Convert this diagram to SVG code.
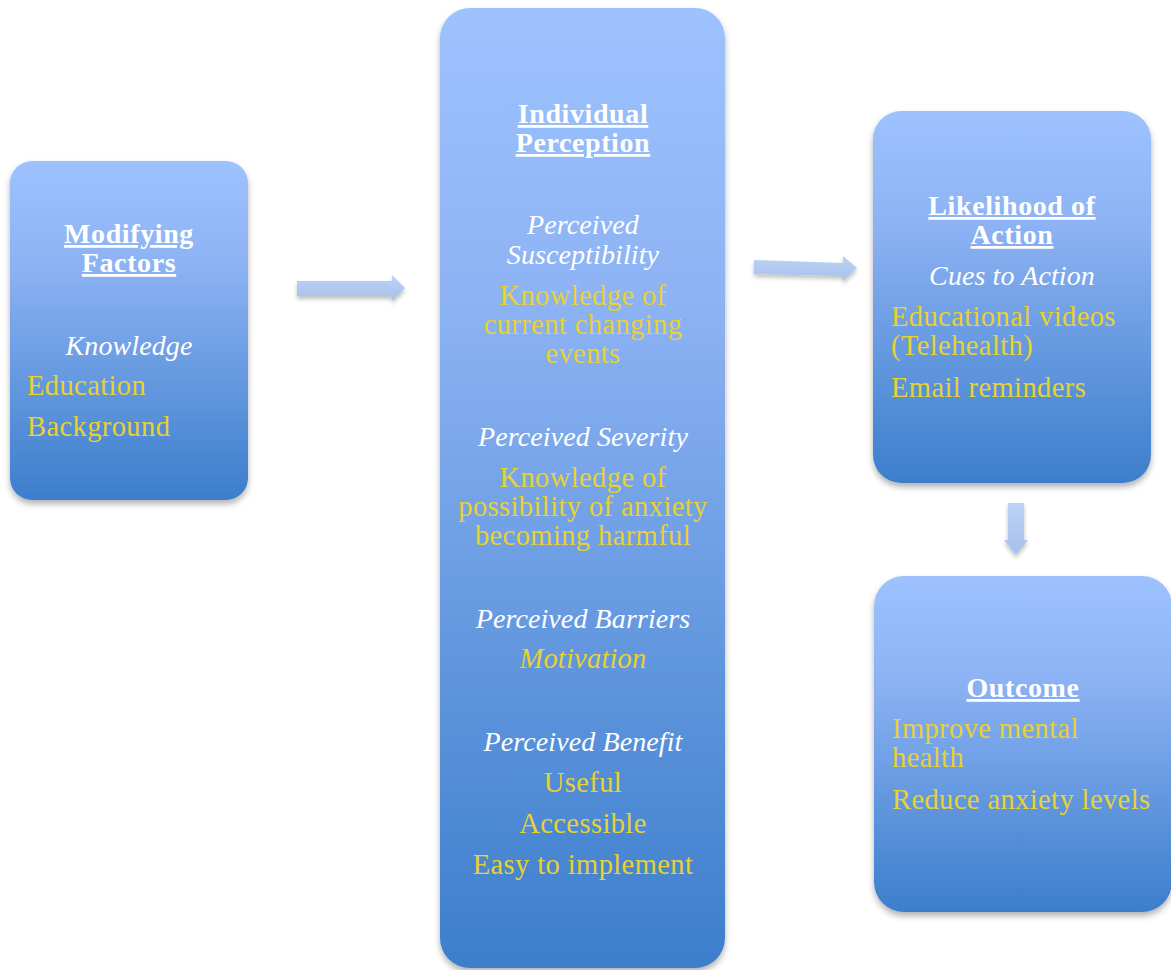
<svg xmlns="http://www.w3.org/2000/svg" width="1171" height="970" viewBox="0 0 1171 970">
  <defs>
    <linearGradient id="boxFill" x1="0" y1="0" x2="0" y2="1">
      <stop offset="0" stop-color="#9DC2FE"/>
      <stop offset="0.3" stop-color="#8DB3F4"/>
      <stop offset="1" stop-color="#3C7ECB"/>
    </linearGradient>
    <linearGradient id="arrowFill" x1="0" y1="0" x2="0" y2="1">
      <stop offset="0" stop-color="#BDD3F6"/>
      <stop offset="1" stop-color="#A6C0EA"/>
    </linearGradient>
    <filter id="shadow" x="-10%" y="-10%" width="120%" height="120%">
      <feDropShadow dx="0" dy="4" stdDeviation="3" flood-color="#000" flood-opacity="0.3"/>
    </filter>
    <filter id="arrowShadow" x="-20%" y="-50%" width="140%" height="200%">
      <feDropShadow dx="0" dy="3" stdDeviation="2" flood-color="#000" flood-opacity="0.25"/>
    </filter>
  </defs>
  <style>
    .box { fill: url(#boxFill); filter: url(#shadow); }
    .arrow { fill: url(#arrowFill); filter: url(#arrowShadow); }
    text { font-family: "Liberation Serif", "Times New Roman", serif; font-size: 28.5px; letter-spacing: 0.4px; }
    .head { fill: #FFFFFF; font-weight: bold; font-size: 28px; text-decoration: underline; text-anchor: middle; letter-spacing: 0.6px; }
    .sub { fill: #FFFFFF; font-style: italic; font-size: 28px; text-anchor: middle; letter-spacing: 0.1px; }
    .item { fill: #E8D133; }
    .mid { text-anchor: middle; }
    .ital { font-style: italic; letter-spacing: 0.2px; }
  </style>

  <!-- connectors -->
  <g id="connectors">
    <path class="arrow" d="M297,281 L392,281 L392,275 L405,288 L392,301 L392,296 L297,296 Z"/>
    <path class="arrow" d="M754,260 L843,263 L843,256 L857,268 L843,281 L843,276 L754,274 Z"/>
    <path class="arrow" d="M1008,503 L1024,503 L1024,540 L1028,540 L1016,555 L1004,540 L1008,540 Z"/>
  </g>

  <!-- Modifying Factors -->
  <g id="modifying-factors">
    <rect class="box" x="10" y="161" width="238" height="339" rx="22"/>
    <text class="head" x="129" y="243">Modifying</text>
    <text class="head" x="129" y="272">Factors</text>
    <text class="sub" x="129" y="355">Knowledge</text>
    <text class="item" x="27" y="395">Education</text>
    <text class="item" x="27" y="436">Background</text>
  </g>

  <!-- Individual Perception -->
  <g id="individual-perception">
    <rect class="box" x="440" y="8" width="285" height="960" rx="30"/>
    <text class="head" x="583" y="123">Individual</text>
    <text class="head" x="583" y="152">Perception</text>
    <text class="sub" x="583" y="234">Perceived</text>
    <text class="sub" x="583" y="264">Susceptibility</text>
    <text class="item mid" x="583" y="305">Knowledge of</text>
    <text class="item mid" x="583" y="334">current changing</text>
    <text class="item mid" x="583" y="363">events</text>
    <text class="sub" x="583" y="446">Perceived Severity</text>
    <text class="item mid" x="583" y="487">Knowledge of</text>
    <text class="item mid" x="583" y="516">possibility of anxiety</text>
    <text class="item mid" x="583" y="545">becoming harmful</text>
    <text class="sub" x="583" y="628">Perceived Barriers</text>
    <text class="item mid ital" x="583" y="668">Motivation</text>
    <text class="sub" x="583" y="751">Perceived Benefit</text>
    <text class="item mid" x="583" y="792">Useful</text>
    <text class="item mid" x="583" y="833">Accessible</text>
    <text class="item mid" x="583" y="874">Easy to implement</text>
  </g>

  <!-- Likelihood of Action -->
  <g id="likelihood-of-action">
    <rect class="box" x="873" y="111" width="278" height="372" rx="28"/>
    <text class="head" x="1012" y="215">Likelihood of</text>
    <text class="head" x="1012" y="244">Action</text>
    <text class="sub" x="1012" y="285">Cues to Action</text>
    <text class="item" x="891" y="326">Educational videos</text>
    <text class="item" x="891" y="355">(Telehealth)</text>
    <text class="item" x="891" y="397">Email reminders</text>
  </g>

  <!-- Outcome -->
  <g id="outcome">
    <rect class="box" x="874" y="576" width="298" height="336" rx="30"/>
    <text class="head" x="1023" y="697">Outcome</text>
    <text class="item" x="892" y="738">Improve mental</text>
    <text class="item" x="892" y="767">health</text>
    <text class="item" x="892" y="809">Reduce anxiety levels</text>
  </g>
</svg>
